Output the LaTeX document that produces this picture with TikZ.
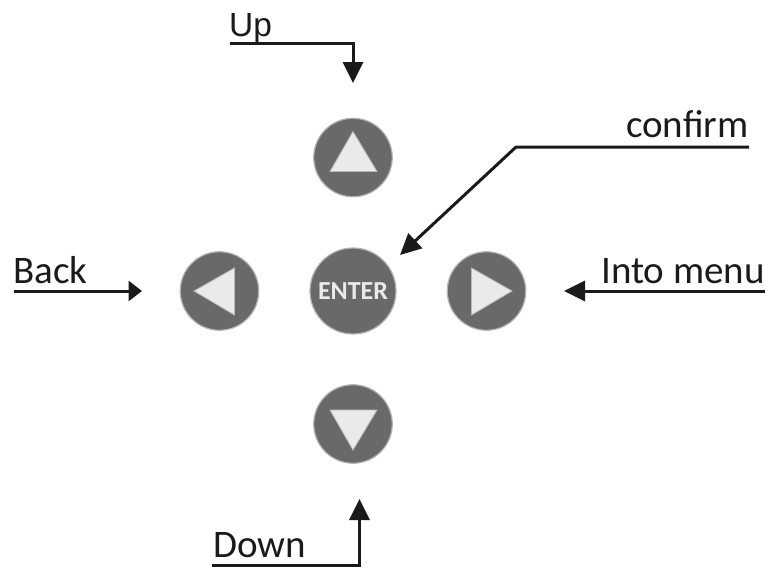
\documentclass[tikz,border=0pt]{standalone}
\usepackage{fontspec}
\setmainfont{Carlito}
\newfontfamily\upfont{Liberation Sans}
\usetikzlibrary{arrows.meta}
\definecolor{btn}{HTML}{696969}
\definecolor{rimc}{HTML}{B4B4B4}
\definecolor{tri}{HTML}{E9EBEA}
\definecolor{trib}{HTML}{B9BBBA}
\definecolor{ink}{HTML}{1A1A1A}
\tikzset{
  btnbase/.style={circle,fill=btn,draw=rimc,line width=1.2pt,inner sep=0pt,outer sep=0pt},
  arrowbtn/.style={btnbase,minimum size=78.5pt},
  mark tri/.style={fill=tri,draw=trib,line width=0.8pt,line join=miter},
  lab/.style={font=\fontsize{39}{39}\selectfont,text=ink,inner sep=0pt,anchor=base west},
  conn/.style={draw=ink,line width=3pt,line join=miter,-{Triangle[length=21pt,width=20pt]}},
  connshort/.style={draw=ink,line width=3pt,line join=miter,-{Triangle[length=13.5pt,width=20pt]}}
}
\begin{document}
\begin{tikzpicture}[x=1pt,y=-1pt]
\useasboundingbox (0,0) rectangle (772,571);
\node[arrowbtn] (up) at (353,157.5) {};
\node[arrowbtn] (down) at (353,424) {};
\node[arrowbtn] (left) at (219.5,291) {};
\node[arrowbtn] (right) at (486.5,291) {};
\node[btnbase,minimum size=86pt,text=tri,font=\fontsize{26}{26}\selectfont\bfseries] (enter) at (353,291) {ENTER\hspace{4pt}};
\path[mark tri] (353,131.5) -- (377,171.5) -- (330,171.5) -- cycle;
\path[mark tri] (353,450) -- (377,410) -- (330,410) -- cycle;
\path[mark tri] (194,291) -- (234.5,268) -- (234.5,315) -- cycle;
\path[mark tri] (512,291) -- (471.5,268) -- (471.5,315) -- cycle;
\node[lab,font=\upfont\fontsize{33.5}{33.5}\selectfont] (lup) at (229,36) {Up};
\node[lab] (lback) at (13,283.3) {Back};
\node[lab] (lconfirm) at (626,137) {confirm};
\node[lab] (linto) at (601,283) {Into menu};
\node[lab] (ldown) at (213,557) {Down};
\coordinate (a) at (230,43);
\coordinate (b) at (353,43);
\coordinate (c) at (353,83);
\draw[conn] (a) -- (b) -- (c);
\coordinate (d) at (14,291);
\coordinate (e) at (142,291);
\draw[connshort] (d) -- (e);
\coordinate (f) at (765,291);
\coordinate (g) at (564,291);
\draw[conn] (f) -- (g);
\coordinate (h) at (749,147);
\coordinate (i) at (516,147);
\coordinate (j) at (400,255);
\draw[conn] (h) -- (i) -- (j);
\coordinate (k) at (212,565);
\coordinate (l) at (359.5,565);
\coordinate (m) at (359.5,499);
\draw[conn] (k) -- (l) -- (m);
\end{tikzpicture}
\end{document}
